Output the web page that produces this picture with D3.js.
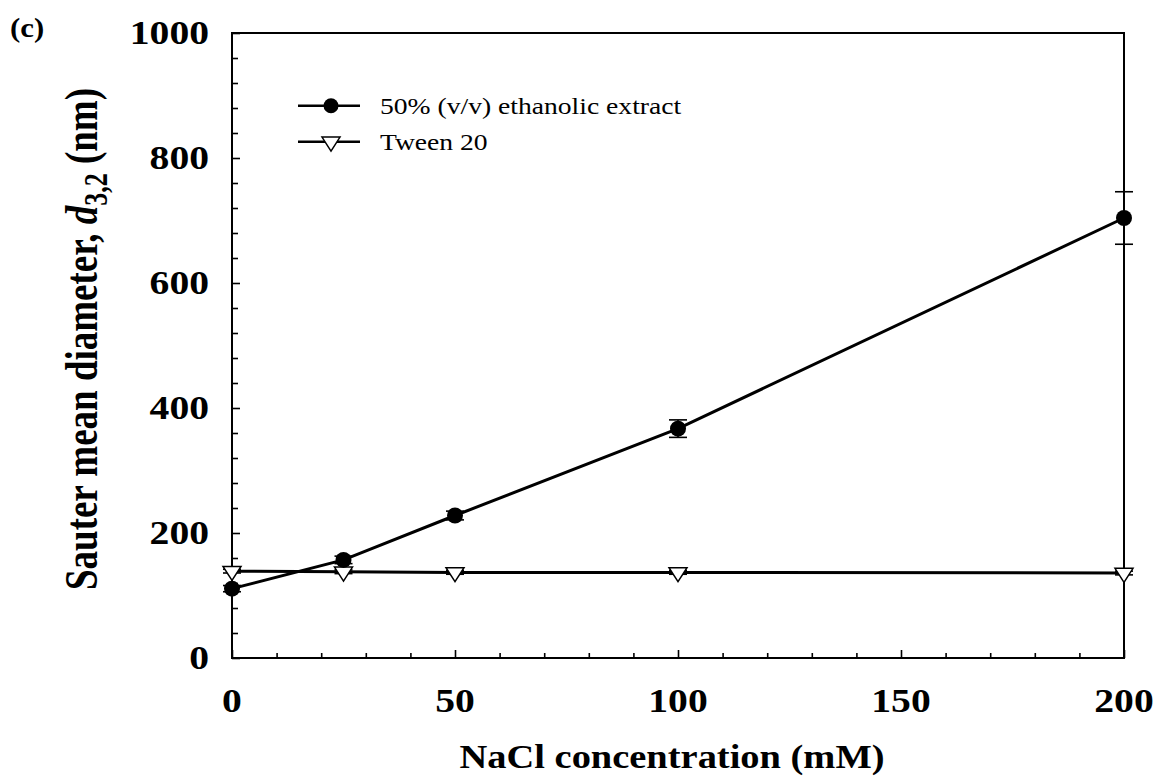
<!DOCTYPE html>
<html>
<head>
<meta charset="utf-8">
<script src="https://cdn.jsdelivr.net/npm/d3@7"></script>
<style>
  html, body { margin: 0; padding: 0; background: #fff; }
  svg { display: block; }
  text { font-family: "Liberation Serif", "Times New Roman", serif; fill: #000; }
</style>
</head>
<body>
<svg id="chart" width="1159" height="782"></svg>
<script>
// NaCl concentrations (mM)
const nacl = [0, 25, 50, 100, 200];
// Sauter mean diameter d3,2 (nm)
const ethanolicExtract = [111, 157, 228, 367, 704];
const ethanolicError   = [5, 6, 7, 14, 42];
const tween20          = [139, 138, 137, 137, 136];
const tween20Error     = [3, 3, 3, 3, 3];

const seriesNames = ["50% (v/v) ethanolic extract", "Tween 20"];
const xTicks = [0, 50, 100, 150, 200];
const yTicks = [0, 200, 400, 600, 800, 1000];
const xMinorTicks = d3.range(0, 201, 10);
const yMinorTicks = d3.range(0, 1001, 40);

const svg = d3.select("#chart");
const plotLeft = 232, plotRight = 1124, plotTop = 33, plotBottom = 658;

const x = d3.scaleLinear().domain([0, 200]).range([plotLeft, plotRight]);
const y = d3.scaleLinear().domain([0, 1000]).range([plotBottom, plotTop]);

// widen glyphs horizontally by a factor
function stretch(sel, s) {
  sel.each(function () {
    const w = this.getComputedTextLength();
    this.setAttribute("textLength", w * s);
    this.setAttribute("lengthAdjust", "spacingAndGlyphs");
  });
}

// ---- axes with inward ticks ----
const gx = svg.append("g").attr("transform", `translate(0,${plotBottom})`);
gx.call(d3.axisTop(x).tickValues(xMinorTicks).tickSize(5).tickFormat(""));
gx.call(g => g.selectAll(".tick").filter(d => d % 50 === 0).select("line").attr("y2", -8));
gx.select(".domain").remove();
gx.selectAll(".tick line").attr("stroke", "#000").attr("stroke-width", 1.6);

const gy = svg.append("g").attr("transform", `translate(${plotLeft},0)`);
gy.call(d3.axisRight(y).tickValues(yMinorTicks).tickSize(6).tickFormat(""));
gy.call(g => g.selectAll(".tick").filter(d => d % 200 === 0).select("line").attr("x2", 8));
gy.select(".domain").remove();
gy.selectAll(".tick line").attr("stroke", "#000").attr("stroke-width", 1.6);

// frame
svg.append("rect")
  .attr("x", plotLeft).attr("y", plotTop)
  .attr("width", plotRight - plotLeft).attr("height", plotBottom - plotTop)
  .attr("fill", "none").attr("stroke", "#000").attr("stroke-width", 2);

// tick labels
const xl = svg.append("g").selectAll("text").data(xTicks).join("text")
  .attr("x", d => x(d)).attr("y", 712)
  .attr("text-anchor", "middle")
  .attr("font-size", 33).attr("font-weight", "bold")
  .text(d => d);
stretch(xl, 1.2);

const yl = svg.append("g").selectAll("text").data(yTicks).join("text")
  .attr("x", 209).attr("y", d => y(d) + 11)
  .attr("text-anchor", "end")
  .attr("font-size", 33).attr("font-weight", "bold")
  .text(d => d);
stretch(yl, 1.2);

// axis titles
const xt = svg.append("text")
  .attr("x", 672).attr("y", 768)
  .attr("text-anchor", "middle")
  .attr("font-size", 34).attr("font-weight", "bold")
  .text("NaCl concentration (mM)");
xt.attr("textLength", 425).attr("lengthAdjust", "spacingAndGlyphs");

const yt = svg.append("text")
  .attr("transform", "translate(97,339) scale(1.28,1) rotate(-90)")
  .attr("text-anchor", "middle")
  .attr("font-size", 37).attr("font-weight", "bold");
yt.append("tspan").text("Sauter mean diameter, ");
yt.append("tspan").attr("font-style", "italic").text("d");
yt.append("tspan").attr("font-size", 26).attr("dy", 8).text("3,2");
yt.append("tspan").attr("dy", -8).text(" (nm)");

// panel letter
const pl = svg.append("text")
  .attr("x", 10).attr("y", 37)
  .attr("font-size", 28).attr("font-weight", "bold")
  .text("(c)");
stretch(pl, 1.1);

// ---- data ----
const line = d3.line().x((d, i) => x(nacl[i])).y(d => y(d));

const triPath = (w, h) => `M${-w / 2},${-h / 3}L${w / 2},${-h / 3}L0,${2 * h / 3}Z`;

function errorBars(values, errors) {
  const g = svg.append("g").attr("stroke", "#000").attr("stroke-width", 1.6);
  values.forEach((v, i) => {
    const cx = x(nacl[i]);
    g.append("line").attr("x1", cx).attr("x2", cx)
      .attr("y1", y(v - errors[i])).attr("y2", y(v + errors[i]));
    [v - errors[i], v + errors[i]].forEach(e => {
      g.append("line").attr("x1", cx - 9).attr("x2", cx + 9)
        .attr("y1", y(e)).attr("y2", y(e));
    });
  });
}

// Tween 20
errorBars(tween20, tween20Error);
svg.append("path").datum(tween20)
  .attr("d", line).attr("fill", "none")
  .attr("stroke", "#000").attr("stroke-width", 3);
svg.append("g").selectAll("path").data(tween20).join("path")
  .attr("transform", (d, i) => `translate(${x(nacl[i])},${y(d)})`)
  .attr("d", triPath(18, 14))
  .attr("fill", "#fff").attr("stroke", "#000").attr("stroke-width", 1.5);

// ethanolic extract
errorBars(ethanolicExtract, ethanolicError);
svg.append("path").datum(ethanolicExtract)
  .attr("d", line).attr("fill", "none")
  .attr("stroke", "#000").attr("stroke-width", 3);
svg.append("g").selectAll("circle").data(ethanolicExtract).join("circle")
  .attr("cx", (d, i) => x(nacl[i])).attr("cy", d => y(d))
  .attr("r", 8).attr("fill", "#000");

// ---- legend ----
const legend = svg.append("g");
const rows = [105.7, 141.7];
seriesNames.forEach((name, i) => {
  const ly = rows[i];
  legend.append("line").attr("x1", 298).attr("x2", 360)
    .attr("y1", ly).attr("y2", ly)
    .attr("stroke", "#000").attr("stroke-width", 2.5);
  if (i === 0) {
    legend.append("circle").attr("cx", 331).attr("cy", ly).attr("r", 7.5).attr("fill", "#000");
  } else {
    legend.append("path").attr("transform", `translate(331,${ly})`)
      .attr("d", triPath(18, 14))
      .attr("fill", "#fff").attr("stroke", "#000").attr("stroke-width", 1.5);
  }
  const t = legend.append("text")
    .attr("x", 380).attr("y", ly + 8)
    .attr("font-size", 24)
    .text(name);
  stretch(t, 1.15);
});
</script>
</body>
</html>
